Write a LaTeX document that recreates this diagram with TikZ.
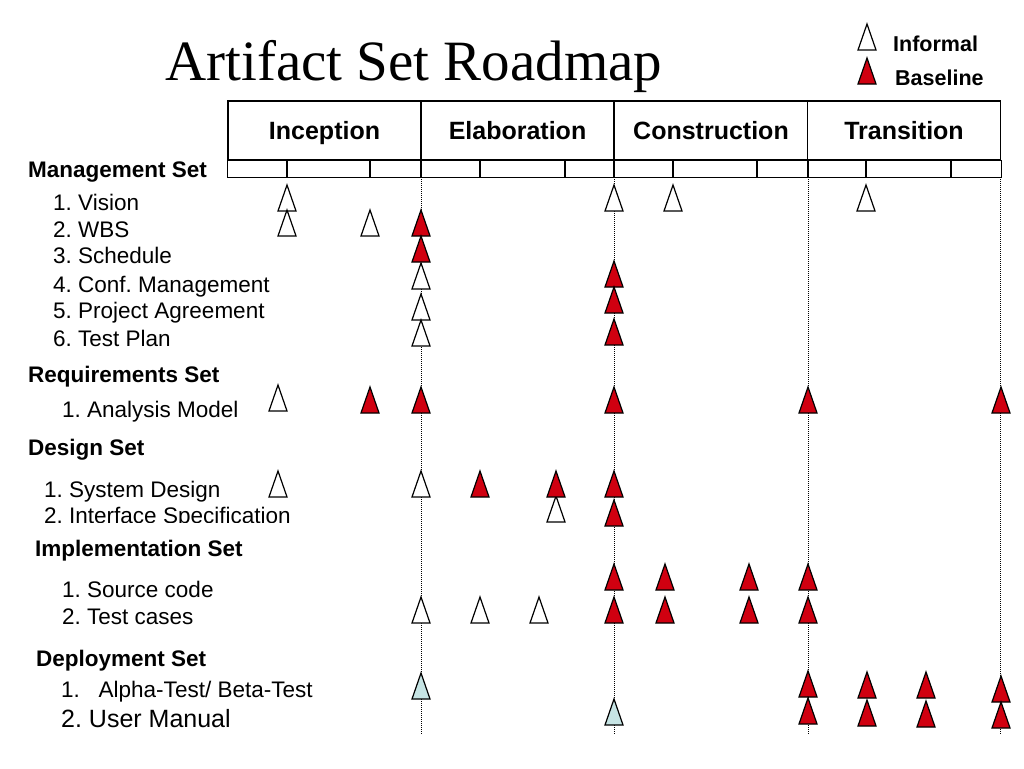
\documentclass[tikz,border=0pt]{standalone}
\usepackage{fontspec}
\setmainfont{Liberation Sans}
\newfontfamily\titlefont{Liberation Serif}
\usetikzlibrary{positioning}
\frenchspacing

\definecolor{basered}{RGB}{208,0,16}
\definecolor{reviewblue}{RGB}{198,228,228}

\tikzset{
  phase/.style={draw, line width=1.3pt, minimum width=193pt, minimum height=59pt,
    inner sep=0pt, text depth=0pt, font=\fontsize{25}{30}\selectfont\bfseries},
  setname/.style={anchor=base west, inner sep=0pt, font=\fontsize{22.5}{26}\selectfont\bfseries},
  item/.style={anchor=base west, inner sep=0pt, font=\fontsize{22.5}{26}\selectfont},
  legendtext/.style={anchor=base west, inner sep=0pt, font=\fontsize{21.5}{24}\selectfont\bfseries},
  informalmark/.style={draw, line width=1.2pt, fill=white},
  baselinemark/.style={draw, line width=1.2pt, fill=basered},
  reviewmark/.style={draw, line width=1.2pt, fill=reviewblue},
  milestone/.style={densely dotted, line width=1pt},
}

% triangle : style, x, y du bas
\newcommand{\artri}[3]{\draw[#1] (#2-9,#3) -- (#2+9,#3) -- (#2,#3-26) -- cycle;}

\begin{document}
\begin{tikzpicture}[x=1pt, y=-1pt]
  \useasboundingbox (0,0) rectangle (1024,768);

  % titre
  \node[anchor=base west, inner sep=0pt, font=\titlefont\fontsize{57}{62}\selectfont]
    (title) at (165,80) {Artifact Set Roadmap};

  % légende
  \artri{informalmark}{867}{50}
  \node[legendtext] (informal) at (893,52) {Informal};
  \artri{baselinemark}{867}{84}
  \node[legendtext] (baseline) at (895,85) {Baseline};

  % phases
  \node[phase] (incep) at (324.5,130.5) {Inception};
  \node[phase] (elab)  at (517.5,130.5) {Elaboration};
  \node[phase] (const) at (711,130.5) {Construction};
  \node[phase] (trans) at (904,130.5) {Transition};
  \draw[line width=1.3pt] (incep.south west) rectangle ([yshift=-17pt]trans.south east);
  \foreach \x in {287,370,421,480,565,614,673,757,808,866,951}
    \draw[line width=1.2pt] (\x,160) -- (\x,177);

  % jalons
  \foreach \x in {421,614,808,1000}
    \draw[milestone] (\x,177) -- (\x,735);

  % ensembles
  \node[setname] (mgmt) at (28,177) {Management Set};
  \node[item] (vision) at (53,210) {1. Vision};
  \node[item] (wbs)    at (53,237) {2. WBS};
  \node[item] (sched)  at (53,263) {3. Schedule};
  \node[item] (conf)   at (53,292) {4. Conf. Management};
  \node[item] (agree)  at (53,318) {5. Project Agreement};
  \node[item] (tplan)  at (53,346) {6. Test Plan};

  \node[setname] (req) at (28,382) {Requirements Set};
  \node[item] (analysis) at (62,417) {1. Analysis Model};

  \node[setname] (design) at (28,455) {Design Set};
  \node[item] (sysdes) at (44,497) {1. System Design};
  \begin{scope}
    \clip (0,500) rectangle (400,522);
    \node[item] (iface) at (44,523) {2. Interface Specification};
  \end{scope}

  \node[setname] (impl) at (35,556) {Implementation Set};
  \node[item] (src)    at (62,597) {1. Source code};
  \node[item] (tcases) at (62,624) {2. Test cases};

  \node[setname] (deploy) at (36,666) {Deployment Set};
  \node[item] (alpha)  at (61,697) {1.\ \ \ Alpha-Test/ Beta-Test};
  \node[item, font=\fontsize{25}{28}\selectfont] (manual) at (61,727) {2. User Manual};

  % informel
  \foreach \x/\y in {287/211, 614/211, 673/211, 866/211, 287/236, 370/236,
      421/289, 421/320, 421/346, 278/411, 278/497, 421/497, 556/522,
      421/623, 480/623, 539/623}
    {\artri{informalmark}{\x}{\y}}

  % baseline
  \foreach \x/\y in {421/236, 421/262, 614/287, 614/313, 614/345,
      370/413, 421/413, 614/413, 808/413, 1001/413,
      480/497, 556/497, 614/497, 614/526,
      614/590, 665/590, 749/590, 808/590,
      614/623, 665/623, 749/623, 808/623,
      808/697, 867/698, 926/698, 1001/702,
      808/724, 867/726, 926/727, 1001/728}
    {\artri{baselinemark}{\x}{\y}}

  % revue
  \artri{reviewmark}{421}{699}
  \artri{reviewmark}{614}{725}

\end{tikzpicture}
\end{document}
